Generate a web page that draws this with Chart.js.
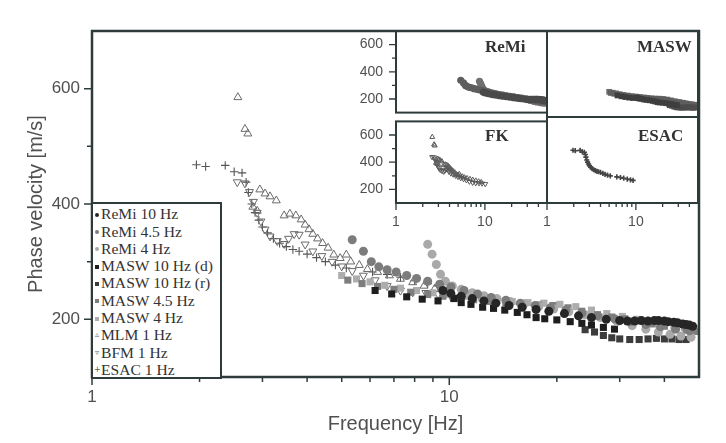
<!DOCTYPE html>
<html><head><meta charset="utf-8">
<script src="https://cdn.jsdelivr.net/npm/chart.js@4.4.1/dist/chart.umd.min.js"></script>
<style>
body{margin:0;background:#fff;}
#wrap{position:relative;width:726px;height:443px;overflow:hidden;background:#fff;}
#wrap canvas{position:absolute;}
#legend{position:absolute;left:91px;top:202px;width:127px;height:172px;border:2px solid #2e3b3b;background:#fff;padding-top:1.3px;box-sizing:content-box;font-family:"Liberation Serif","Times New Roman",serif;font-size:15.6px;color:#333;}
#legend .row{height:17.3px;line-height:17.3px;white-space:nowrap;position:relative;padding-left:8px;}
#legend .mk{position:absolute;left:1px;top:0;width:6px;text-align:center;}
.ptitle{position:absolute;font-family:"Liberation Serif","Times New Roman",serif;font-weight:bold;font-size:17px;line-height:17px;color:#333;white-space:nowrap;}
</style></head>
<body>
<div id="wrap">
<canvas id="main" width="726" height="443" style="left:0;top:0"></canvas>
<canvas id="pRemi" width="217" height="127" style="left:340px;top:0"></canvas>
<canvas id="pMasw" width="189" height="127" style="left:537px;top:0"></canvas>
<canvas id="pFk" width="217" height="130" style="left:340px;top:107px"></canvas>
<canvas id="pEsac" width="189" height="130" style="left:537px;top:107px"></canvas>
<div class="ptitle" style="left:485px;top:37.5px">ReMi</div>
<div class="ptitle" style="left:637px;top:37.5px">MASW</div>
<div class="ptitle" style="left:485px;top:126.5px">FK</div>
<div class="ptitle" style="left:638px;top:126.5px">ESAC</div>
<div id="legend"></div>
</div>
<script>
// ---------- data (frequency [Hz], phase velocity [m/s]) ----------
const seriesNames = ["ReMi 10 Hz","ReMi 4.5 Hz","ReMi 4 Hz","MASW 10 Hz (d)","MASW 10 Hz (r)","MASW 4.5 Hz","MASW 4 Hz","MLM 1 Hz","BFM 1 Hz","ESAC 1 Hz"];
const panelNames = ["ReMi","MASW","FK","ESAC"];
const xMajor = [1,10];
const xMinor = [2,3,4,5,6,7,8,9,20,30,40];
const yMajor = [200,400,600];
const yMinor = [300,500];

const remi10 = [[9.6,250],[10.1,245],[10.8,240],[11.6,236],[12.5,232],[13.5,228],[14.7,224],[16,221],[17.5,217],[19,214],[21,210],[23,206],[25,203],[27.5,200],[30,198],[31.5,197],[33,197],[34.5,198],[36,197],[37.5,198],[38.5,198],[40,197],[41,196],[42.5,195],[43.5,194],[45,192],[46,191],[47,190],[48,188]];
const remi45 = [[5.35,338],[5.75,318],[6.05,300],[6.35,291],[6.7,286],[7.1,282],[7.6,276],[8.1,271],[8.7,266],[9.4,261],[10.1,256],[11,250],[12,244],[13.1,238],[14.4,233],[15.8,228],[17.4,224],[19.2,220],[21.2,216],[23.5,211],[26,206],[29,201],[32,196],[35.5,191],[39,187],[43,183],[47,180]];
const remi4 = [[8.7,330],[8.95,313],[9.2,295],[9.45,278],[9.75,266],[10.2,258],[10.8,252],[11.6,246],[12.5,241],[13.6,236],[14.8,231],[16.2,227],[17.8,222],[19.6,218],[21.6,213],[24,208],[26.5,203],[29.5,196],[32.5,189],[35.5,183],[38.5,178],[41.5,174],[44.5,171],[47.5,169]];
const masw10d = [[6.2,250],[6.9,244],[7.6,239],[8.4,235],[9.3,232],[10.3,236],[10.8,229],[11.5,226],[12.4,221],[13.3,219],[14.3,216],[15.5,212],[16.5,208],[17.5,203],[18.5,201],[20,199],[21.8,196],[23.5,193],[25,190],[27,186],[29,183]];
const masw10r = [[24,182],[25.5,178],[27,172],[28.5,168],[30,166],[32,165],[34,165],[36,166],[38,167],[40,166],[42,166],[44,165],[46,165]];
const masw45 = [[5.2,268],[5.7,262],[6.3,257],[7,252],[7.8,247],[8.7,243],[9.6,240],[10.6,237],[11.7,234],[13,231],[14.4,228],[16,226],[17.7,225],[19.5,224],[21.5,220],[23.5,214],[26,208],[28.5,204],[31,201],[34,197],[37,192],[40,188],[43,184],[46,181],[49,179]];
const masw4 = [[5.0,276],[5.5,270],[6.0,265],[6.6,259],[7.3,254],[8.1,250],[9,246],[10,243],[11.1,240],[12.3,237],[13.6,234],[15,231],[16.6,229],[18.4,228],[20.4,226],[22.6,222],[25,216],[27.6,210],[30.5,205],[33.5,200],[36.5,196],[39.5,192],[42.5,189],[45.5,186],[48.5,184]];
const mlm = [[2.56,585],[2.68,530],[2.73,522],[2.95,425],[3.05,418],[3.15,413],[3.28,406],[2.82,395],[2.9,388],[3.45,380],[3.58,383],[3.72,380],[3.85,373],[3.95,364],[4.05,356],[4.15,348],[4.28,340],[4.42,332],[4.58,324],[4.75,312],[4.95,306],[5.15,312],[5.3,300],[5.6,294],[5.9,287],[6.3,282],[6.8,276],[7.3,270],[7.9,264],[8.5,258],[9.1,253]];
const bfm = [[2.55,438],[2.68,436],[2.76,421],[2.83,404],[2.9,385],[2.97,370],[3.05,356],[3.15,344],[3.3,336],[3.45,331],[3.55,340],[3.68,348],[3.8,347],[3.95,330],[4.15,318],[4.4,310],[4.7,300],[5.0,292],[5.35,284],[5.75,276],[6.2,268],[6.7,258],[7.3,250],[7.9,247],[8.6,246],[9.3,244],[10.1,240]];
const esac = [[1.96,468],[2.08,465],[2.36,467],[2.5,456],[2.63,454],[2.7,438],[2.74,420],[2.8,400],[2.86,385],[2.93,372],[3.0,360],[3.1,350],[3.22,340],[3.35,332],[3.5,326],[3.65,321],[3.8,318],[4.0,313],[4.25,307],[4.5,300],[4.8,294],[5.15,289],[6.1,282],[6.7,278],[7.3,273],[8.0,267],[8.7,262],[9.3,258]];

const seriesData = [remi10,remi45,remi4,masw10d,masw10r,masw45,masw4,mlm,bfm,esac];

// ---------- styles ----------
const FRAME = '#2e3b3b';
const TXT = '#505050';
const styles = [
  {kind:'circle', color:'#262626', inset:'#4a4a4a'},
  {kind:'circle', color:'#7c7c7c', inset:'#5e5e5e'},
  {kind:'circle', color:'#a9a9a9', inset:'#707070'},
  {kind:'rect', color:'#1e1e1e', inset:'#3e3e3e'},
  {kind:'rect', color:'#3c3c3c', inset:'#4c4c4c'},
  {kind:'rect', color:'#7e7e7e', inset:'#5e5e5e'},
  {kind:'rect', color:'#adadad', inset:'#6e6e6e'},
  {kind:'tri', color:'#6a6a6a', inset:'#5a5a5a'},
  {kind:'tridown', color:'#6a6a6a', inset:'#5a5a5a'},
  {kind:'plus', color:'#555555', inset:'#444444'}
];

function toXY(arr){ return arr.map(p => ({x:p[0], y:p[1]})); }

function makeDataset(i, scale, inset){
  const s = styles[i];
  const col = inset ? s.inset : s.color;
  const d = {label: seriesNames[i], data: toXY(seriesData[i]), showLine:false};
  if (s.kind === 'circle'){
    Object.assign(d,{pointStyle:'circle', pointRadius:4.5*scale, backgroundColor:col, borderColor:col, borderWidth:0});
  } else if (s.kind === 'rect'){
    Object.assign(d,{pointStyle:'rect', pointRadius:5*scale, backgroundColor:col, borderColor:col, borderWidth:0});
  } else if (s.kind === 'tri' || s.kind === 'tridown'){
    Object.assign(d,{pointStyle:'triangle', pointRadius:4.6*(inset?0.62:scale), pointRotation: s.kind==='tridown'?180:0, backgroundColor:'rgba(0,0,0,0)', borderColor:col, borderWidth:1});
  } else {
    Object.assign(d,{pointStyle:'cross', pointRadius:4.2*(inset?0.62:scale), backgroundColor:col, borderColor:col, borderWidth:inset?1.6:1.1});
  }
  return d;
}

function decor(o){
  return { id:'decor', afterDraw(chart){
    const {ctx, chartArea:a, scales} = chart;
    ctx.save();
    ctx.strokeStyle = FRAME;
    ctx.lineWidth = o.lw;
    ctx.strokeRect(a.left, a.top, a.right-a.left, a.bottom-a.top);
    ctx.lineWidth = o.tw;
    ctx.beginPath();
    if (o.left){
      yMajor.forEach(v => { const p = scales.y.getPixelForValue(v); ctx.moveTo(a.left-o.major, p); ctx.lineTo(a.left, p); });
      yMinor.forEach(v => { const p = scales.y.getPixelForValue(v); ctx.moveTo(a.left-o.minor, p); ctx.lineTo(a.left, p); });
    }
    if (o.bottom){
      xMajor.forEach(v => { const p = scales.x.getPixelForValue(v); ctx.moveTo(p, a.bottom); ctx.lineTo(p, a.bottom+o.major); });
      xMinor.forEach(v => { const p = scales.x.getPixelForValue(v); ctx.moveTo(p, a.bottom); ctx.lineTo(p, a.bottom+o.minor); });
    }
    ctx.stroke();
    ctx.restore();
  }};
}

// ---------- main chart ----------
new Chart(document.getElementById('main'), {
  type:'scatter',
  data:{datasets: seriesData.map((_,i)=>makeDataset(i,1,false))},
  options:{
    responsive:false, animation:false,
    layout:{padding:{left:0,right:27,top:31,bottom:0}},
    plugins:{legend:{display:false}, tooltip:{enabled:false}},
    scales:{
      x:{type:'logarithmic', min:1, max:50,
         afterBuildTicks: s => { s.ticks = xMajor.map(v=>({value:v})); },
         afterFit: s => { s.height = 66; },
         grid:{display:false, drawTicks:true, tickLength:8}, border:{display:false},
         ticks:{autoSkip:false, maxRotation:0, padding:2, color:TXT, font:{family:'"Liberation Sans", Arial, sans-serif', size:17}, callback:v=>String(v)},
         title:{display:true, text:'Frequency [Hz]', color:TXT, padding:{top:0,bottom:7}, font:{family:'"Liberation Sans", Arial, sans-serif', size:20}}
      },
      y:{type:'linear', min:100, max:700,
         afterBuildTicks: s => { s.ticks = yMajor.map(v=>({value:v})); },
         afterFit: s => { s.width = 92; },
         grid:{display:false, drawTicks:true, tickLength:8}, border:{display:false},
         ticks:{padding:4, color:TXT, font:{family:'"Liberation Sans", Arial, sans-serif', size:17}},
         title:{display:true, text:'Phase velocity [m/s]', color:TXT, padding:{top:24,bottom:0}, font:{family:'"Liberation Sans", Arial, sans-serif', size:20}}
      }
    }
  },
  plugins:[decor({lw:2.5, tw:1.5, major:8, minor:5, left:true, bottom:true})]
});

// ---------- inset panels ----------
function makePanel(id, idx, opt){
  new Chart(document.getElementById(id), {
    type:'scatter',
    data:{datasets: idx.map(i=>makeDataset(i,0.8,true))},
    options:{
      responsive:false, animation:false,
      layout:{padding:opt.pad},
      plugins:{legend:{display:false}, tooltip:{enabled:false}},
      scales:{
        x:{type:'logarithmic', min:1, max:50, display:opt.bottom,
           afterBuildTicks: s => { s.ticks = xMajor.map(v=>({value:v})); },
           afterFit: s => { s.height = opt.bottom ? 34 : 0; },
           grid:{display:false, drawTicks:true, tickLength:7}, border:{display:false},
           ticks:{autoSkip:false, maxRotation:0, padding:4, color:TXT, font:{family:'"Liberation Sans", Arial, sans-serif', size:14}, callback:v=>String(v)}
        },
        y:{type:'linear', min:100, max:700, display:opt.left,
           afterBuildTicks: s => { s.ticks = yMajor.map(v=>({value:v})); },
           afterFit: s => { s.width = opt.left ? 56 : 0; },
           grid:{display:false, drawTicks:true, tickLength:7}, border:{display:false},
           ticks:{padding:6, color:TXT, font:{family:'"Liberation Sans", Arial, sans-serif', size:14}}
        }
      }
    },
    plugins:[decor({lw:2, tw:1.3, major:7, minor:4, left:opt.left, bottom:opt.bottom})]
  });
}
makePanel('pRemi', [0,1,2], {left:true, bottom:false, pad:{left:0,right:10,top:31,bottom:10}});
makePanel('pMasw', [3,4,5,6], {left:false, bottom:false, pad:{left:10,right:28,top:31,bottom:10}});
makePanel('pFk', [7,8], {left:true, bottom:true, pad:{left:0,right:10,top:10,bottom:0}});
makePanel('pEsac', [9], {left:false, bottom:true, pad:{left:10,right:28,top:10,bottom:0}});

// ---------- legend ----------
const lg = document.getElementById('legend');
seriesNames.forEach((name,i) => {
  const s = styles[i];
  const row = document.createElement('div'); row.className='row';
  const mk = document.createElement('span'); mk.className='mk';
  if (s.kind==='circle' || s.kind==='rect'){
    const dot = document.createElement('span');
    dot.style.cssText = 'display:inline-block;width:4px;height:4px;vertical-align:middle;margin-top:-2px;background:'+s.color+';'+(s.kind==='circle'?'border-radius:50%;':'');
    mk.appendChild(dot);
  } else {
    mk.textContent = s.kind==='tri' ? '\u25B5' : (s.kind==='tridown' ? '\u25BF' : '+');
    mk.style.fontFamily = '"DejaVu Sans", sans-serif';
    mk.style.fontSize = '8px';
    mk.style.color = s.color;
  }
  row.appendChild(mk);
  row.appendChild(document.createTextNode(name));
  lg.appendChild(row);
});
</script>
</body></html>
